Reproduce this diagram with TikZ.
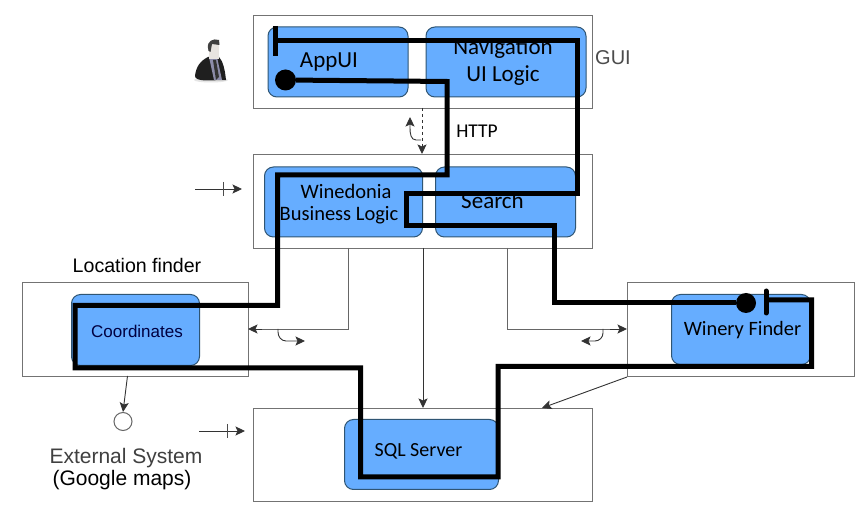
\documentclass[tikz,border=0pt]{standalone}
\usepackage{fontspec}
\setmainfont{Carlito}
\newfontfamily\arialf{Liberation Sans}
\usetikzlibrary{arrows.meta}
\definecolor{compblue}{HTML}{66ADFF}
\definecolor{compedge}{HTML}{2F5573}
\tikzset{
  x=1pt,y=-1pt,
  sz/.style 2 args={minimum width=#1pt,minimum height=#2pt},
  outerbox/.style={draw=black!55,line width=1pt,fill=white,anchor=north west,inner sep=0pt},
  comp/.style={draw=compedge,line width=1pt,fill=compblue,rounded corners=9pt,anchor=north west,inner sep=0pt,align=center},
  thin link/.style={draw=black!60,line width=0.9pt},
  tip/.style={-{Stealth[length=9.5pt,width=9pt,inset=2pt]},black!80,line width=0.9pt},
  thick route/.style={line width=5pt,black,line join=miter,line cap=square},
  blob/.style={circle,fill=black,inner sep=0pt},
  lab/.style={inner sep=0pt,align=center}
}
\begin{document}
\begin{tikzpicture}
\useasboundingbox (0,0) rectangle (863,521);
\fill[white] (0,0) rectangle (863,521);
% outer boxes
\node[outerbox,sz={339}{93}] (gui) at (253,15) {};
\node[outerbox,sz={339}{94}] (biz) at (253,154) {};
\node[outerbox,sz={226}{94}] (loc) at (22,282) {};
\node[outerbox,sz={227}{94}] (win) at (627,282) {};
\node[outerbox,sz={339}{93}] (sql) at (253,408) {};
% components
\node[comp,sz={140}{70}] (appui) at (267.5,26.5) {};
\node[lab,font=\fontsize{23}{25}\selectfont] at (329,61.5) {AppUI};
\node[comp,sz={160}{70}] (nav) at (425.5,26.5) {};
\node[lab,font=\fontsize{23}{27}\selectfont] at (503,62.5) {Navigation\\UI Logic};
\node[comp,sz={158}{70}] (logic) at (264,166.5) {};
\node[lab,font=\fontsize{20.5}{24}\selectfont] at (346,191) {Winedonia};
\node[lab,font=\fontsize{20.5}{24}\selectfont] at (339,215) {Business Logic};
\node[comp,sz={140}{70}] (search) at (435,166.5) {};
\node[lab,font=\fontsize{23}{25}\selectfont] at (492.5,200.5) {Search};
\node[comp,sz={128}{71}] (coord) at (71,294) {};
\node[lab,font=\arialf\fontsize{17}{19}\selectfont,text=black!75!blue] at (137,331.5) {Coordinates};
\node[comp,sz={139}{70}] (finder) at (671,294) {};
\node[lab,font=\fontsize{20.4}{22}\selectfont] at (742.5,330) {Winery Finder};
\node[comp,sz={154}{70}] (sqlsrv) at (344,419) {};
\node[lab,font=\fontsize{20}{22}\selectfont] at (418.5,451) {SQL Server};
% labels
\node[lab,font=\arialf\fontsize{20}{22}\selectfont,text=black!70] at (613,58) {GUI};
\node[lab,font=\fontsize{19.5}{21}\selectfont] at (477,131.5) {HTTP};
\node[lab,font=\arialf\fontsize{19.6}{22}\selectfont] at (137,265) {Location finder};
\node[lab,font=\arialf\fontsize{21}{23}\selectfont,text=black!75] at (126,458) {External System};
\node[lab,font=\arialf\fontsize{21}{23}\selectfont] at (122,480) {(Google maps)};
% external system socket
\node[circle,draw=black!60,line width=1pt,fill=white,minimum size=18pt,inner sep=0pt] (ext) at (123,421.5) {};
% thin connectors
\draw[tip,dashed] (422,108) -- (422,154);
\draw[tip] (421,140) -- (416,140) to[out=180,in=270] (410,128) -- (410,117);
\draw[thin link] (348,248) -- (348,329) -- (262,329);
\draw[tip] (262,329) -- (248,329);
\draw[tip] (278,329) -- (278,332) to[out=270,in=180] (286,341) -- (305,341);
\draw[thin link] (507,248) -- (507,329) -- (610,329);
\draw[tip] (610,329) -- (627,329);
\draw[tip] (603,329) -- (603,333) to[out=270,in=0] (595,341) -- (581,341);
\draw[tip] (423,248) -- (423,408);
\draw[tip] (win.south west) -- (542,408);
\draw[tip] (127.5,376) -- (ext.north);
\coordinate (ea) at (195,189); \coordinate (eb) at (242,189);
\draw[tip] (ea) -- (eb); \draw[black!70,line width=.9pt] (223,182) -- (223,196);
\coordinate (fa) at (199,431); \coordinate (fb) at (245,431);
\draw[tip] (fa) -- (fb); \draw[black!70,line width=.9pt] (227,424) -- (227,438);
% thick routes
\node[blob,minimum size=21pt] (d1) at (285.5,80) {};
\node[blob,minimum size=20pt] (d2) at (746,303) {};
\draw[thick route] (275.7,26) -- (275.7,56);
\draw[thick route] (275.7,41) -- (577,41) -- (577,194) -- (406.5,194) -- (406.5,226) -- (554,226) -- (554,303) -- (d2);
\draw[thick route] (d1) -- (447,81.5) -- (447,175) -- (277.5,175) -- (277.5,305.5) -- (75,305.5) -- (75,368) -- (360.5,368) -- (360.5,477) -- (498,477) -- (498,366.5) -- (811.5,366.5) -- (811.5,300) -- (768,300);
\draw[thick route,line cap=round] (766,291) -- (766,313);
% person
\fill[black!10] (211,80) ellipse (17 and 2.5);
\fill[black!88] (195,76) .. controls (196,67) and (200,61) .. (208,57) -- (219,57) .. controls (223,61) and (225,70) .. (226,80) -- (205,80.5) .. controls (199,80) and (195,79) .. (195,76) -- cycle;
\fill[blue!25!black!45] (209,57) -- (217,57) -- (222,80) -- (214,80) -- cycle;
\fill[black!80] (213,60) -- (216,60) -- (219,77) -- (216,80) -- cycle;
\fill[orange!25!black!12] (209,42) rectangle (219,59);
\fill[black!75] (208,48) .. controls (207,41) and (213,38) .. (219,40) -- (219.5,45) -- (212,44) -- (210.5,52) -- (208.5,51) -- cycle;
\end{tikzpicture}
\end{document}
